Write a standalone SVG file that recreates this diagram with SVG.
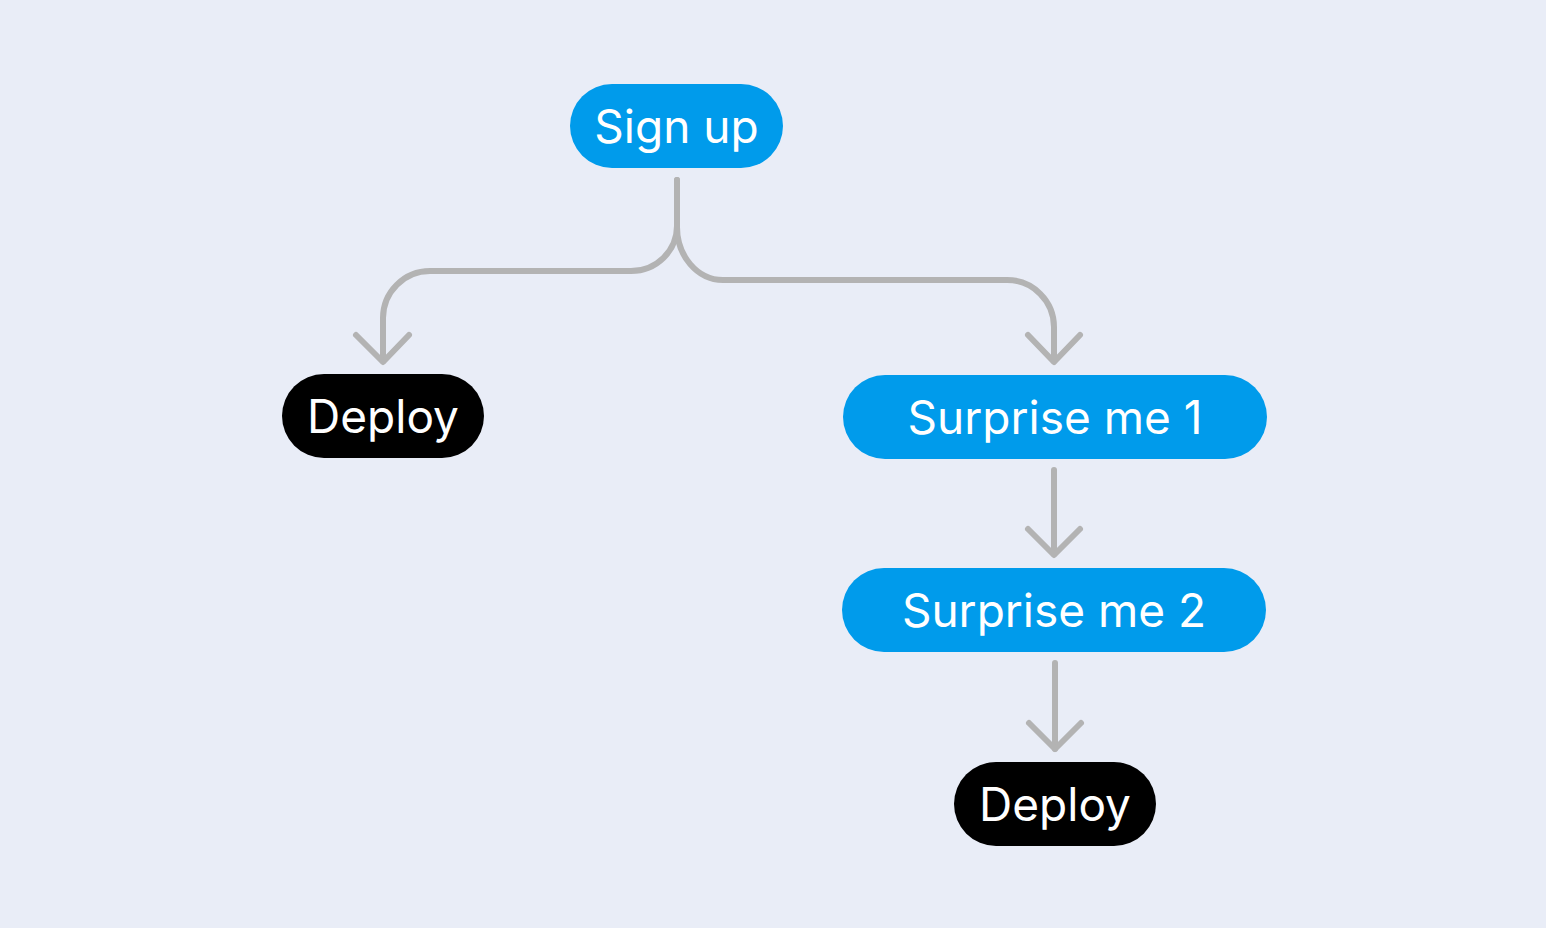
<svg xmlns="http://www.w3.org/2000/svg" width="1546" height="928" viewBox="0 0 1546 928">
<style>
.bg{fill:#E9EDF7}
.blue{fill:#009BEB}
.black{fill:#000000}
.lbl{font-family:Inter,"Liberation Sans",sans-serif;font-size:46px;fill:#FFFFFF;text-anchor:middle}
.edge{fill:none;stroke:#B3B3B3;stroke-width:6;stroke-linecap:round;stroke-linejoin:round}
</style>
<rect class="bg" x="0" y="0" width="1546" height="928"/>
<g id="connectors">
<path class="edge" d="M677,180 V226 A46,45 0 0 1 631,271 H430 A47,47 0 0 0 383,318 V361"/>
<path class="edge" d="M356,335 L383,362 L409,335"/>
<path class="edge" d="M677,180 V226 A46,53 0 0 0 723,280 H1007 A47,47 0 0 1 1054,327 V361"/>
<path class="edge" d="M1028,335 L1054,362 L1080,335"/>
<path class="edge" d="M1054,470 V554"/>
<path class="edge" d="M1028,529 L1054,555 L1080,529"/>
<path class="edge" d="M1055,663 V749"/>
<path class="edge" d="M1029,723 L1055,749 L1081,723"/>
</g>
<g id="signup">
<rect class="blue" x="570" y="84" width="213" height="84" rx="42"/>
<text class="lbl" x="676.5" y="143">Sign up</text>
</g>
<g id="deploy1">
<rect class="black" x="282" y="374" width="202" height="84" rx="42"/>
<text class="lbl" x="383" y="433">Deploy</text>
</g>
<g id="surprise1">
<rect class="blue" x="843" y="375" width="424" height="84" rx="42"/>
<text class="lbl" x="1055" y="434">Surprise me 1</text>
</g>
<g id="surprise2">
<rect class="blue" x="842" y="568" width="424" height="84" rx="42"/>
<text class="lbl" x="1054" y="627">Surprise me 2</text>
</g>
<g id="deploy2">
<rect class="black" x="954" y="762" width="202" height="84" rx="42"/>
<text class="lbl" x="1055" y="821">Deploy</text>
</g>
</svg>
